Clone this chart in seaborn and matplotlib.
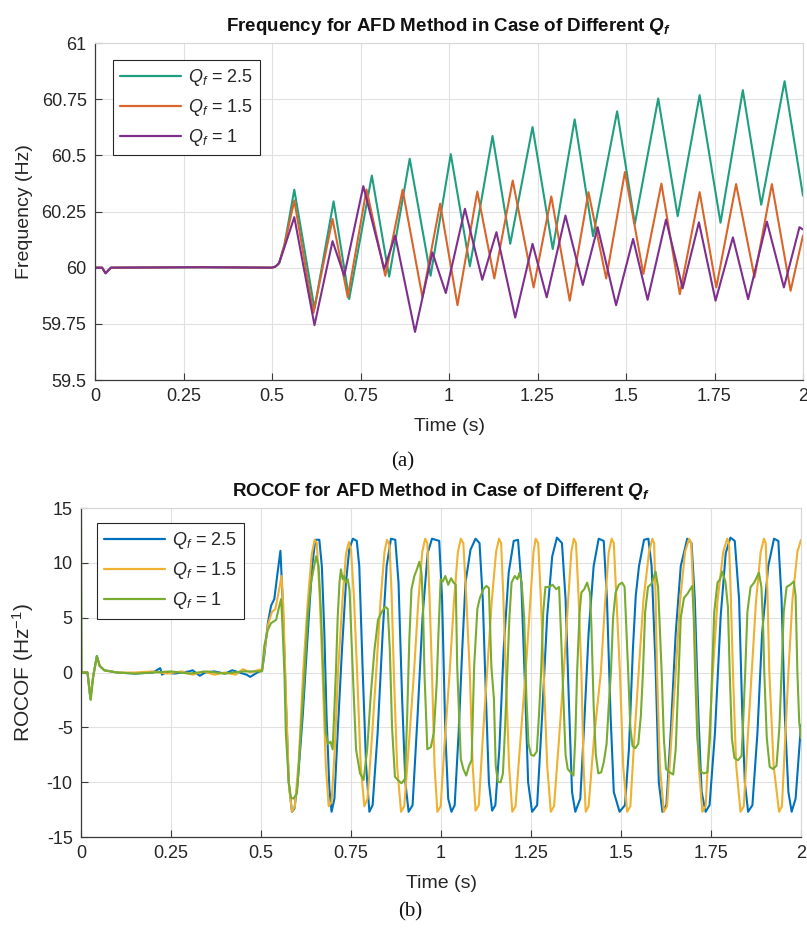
import matplotlib
matplotlib.use("Agg")
import matplotlib.pyplot as plt
from matplotlib.lines import Line2D
from matplotlib import font_manager
import seaborn as sns
import pandas as pd

# ---------------- data ----------------
series_freq = ["$Q_f$ = 2.5", "$Q_f$ = 1.5", "$Q_f$ = 1"]
colors_freq = ["#1f9e80", "#d9652a", "#7e2f8e"]
series_rocof = ["$Q_f$ = 2.5", "$Q_f$ = 1.5", "$Q_f$ = 1"]
colors_rocof = ["#0072bd", "#f0b030", "#77ac30"]

x_ticks = [0, 0.25, 0.5, 0.75, 1, 1.25, 1.5, 1.75, 2]
x_tick_labels = ["0", "0.25", "0.5", "0.75", "1", "1.25", "1.5", "1.75", "2"]
freq_ticks = [59.5, 59.75, 60, 60.25, 60.5, 60.75, 61]
freq_tick_labels = ["59.5", "59.75", "60", "60.25", "60.5", "60.75", "61"]
rocof_ticks = [-15, -10, -5, 0, 5, 10, 15]

# Frequency, Qf = 2.5 (time s, Hz)
freq_q25 = [(0, 60), (0.02, 60), (0.03, 59.975), (0.045, 60), (0.3, 60.002), (0.5, 60),
            (0.51, 60.005), (0.52, 60.02), (0.535, 60.1), (0.563, 60.347), (0.62, 59.818),
            (0.674, 60.295), (0.718, 59.86), (0.782, 60.41), (0.831, 59.96), (0.889, 60.485),
            (0.948, 59.964), (1.005, 60.505), (1.059, 60.006), (1.123, 60.586), (1.173, 60.106),
            (1.236, 60.626), (1.293, 60.083), (1.355, 60.66), (1.407, 60.14), (1.475, 60.696),
            (1.525, 60.195), (1.591, 60.753), (1.646, 60.229), (1.708, 60.768), (1.767, 60.2),
            (1.83, 60.79), (1.882, 60.28), (1.948, 60.83), (2.0, 60.32)]
# Frequency, Qf = 1.5
freq_q15 = [(0, 60), (0.02, 60), (0.03, 59.975), (0.045, 60), (0.3, 60.002), (0.5, 60),
            (0.51, 60.005), (0.52, 60.02), (0.535, 60.1), (0.563, 60.299), (0.617, 59.798),
            (0.671, 60.217), (0.714, 59.868), (0.767, 60.348), (0.82, 59.964), (0.869, 60.347),
            (0.925, 59.868), (0.975, 60.285), (1.024, 59.833), (1.08, 60.339), (1.128, 59.952),
            (1.18, 60.388), (1.239, 59.912), (1.289, 60.317), (1.341, 59.853), (1.394, 60.336),
            (1.444, 59.952), (1.497, 60.426), (1.549, 59.972), (1.6, 60.374), (1.652, 59.882),
            (1.708, 60.336), (1.755, 59.912), (1.811, 60.372), (1.863, 59.957), (1.912, 60.372),
            (1.965, 59.897), (2.0, 60.143)]
# Frequency, Qf = 1
freq_q1 = [(0, 60), (0.02, 60), (0.03, 59.975), (0.045, 60), (0.3, 60.002), (0.5, 60),
           (0.51, 60.005), (0.52, 60.02), (0.535, 60.09), (0.563, 60.225), (0.62, 59.744),
           (0.671, 60.118), (0.704, 59.964), (0.758, 60.363), (0.817, 59.994), (0.848, 60.143),
           (0.904, 59.714), (0.953, 60.068), (0.991, 59.887), (1.045, 60.262), (1.094, 59.946),
           (1.134, 60.158), (1.187, 59.778), (1.236, 60.106), (1.276, 59.868), (1.329, 60.232),
           (1.378, 59.923), (1.42, 60.18), (1.472, 59.833), (1.52, 60.128), (1.561, 59.857),
           (1.613, 60.214), (1.66, 59.908), (1.706, 60.202), (1.753, 59.853), (1.802, 60.135),
           (1.845, 59.86), (1.898, 60.205), (1.946, 59.912), (1.99, 60.18), (2.0, 60.17)]

# ROCOF, Qf = 2.5 (time s, Hz/s)
rocof_q25 = [(0, 0), (0.018, 0), (0.026, -2.4), (0.034, -0.3), (0.044, 1.5), (0.052, 0.6),
             (0.065, 0.2), (0.1, 0), (0.15, -0.1), (0.2, 0), (0.22, 0.4), (0.225, -0.2),
             (0.235, 0), (0.26, -0.1), (0.3, 0.1), (0.31, 0.2), (0.33, -0.3), (0.345, 0),
             (0.37, 0.1), (0.4, -0.1), (0.42, 0.2), (0.44, 0), (0.46, -0.2), (0.47, -0.4),
             (0.49, 0), (0.503, 0.2),
             (0.509, 1.5), (0.519, 4.5), (0.528, 6.1), (0.537, 6.7), (0.546, 9.1), (0.554, 11.1),
             (0.56, 6.7), (0.569, -2.4), (0.577, -10), (0.586, -12.7), (0.593, -12.4), (0.602, -10),
             (0.616, -3.9), (0.63, 3.6), (0.642, 9.7), (0.651, 12.1), (0.662, 12.1), (0.669, 9.7),
             (0.676, 3.6), (0.682, -3.9), (0.69, -10.6), (0.696, -12.7), (0.704, -11.5),
             (0.713, -5.5), (0.725, 2.1), (0.736, 8.2), (0.745, 11.2), (0.755, 12.2), (0.766, 12),
             (0.773, 9.7), (0.782, 0.6), (0.792, -8.5), (0.801, -12.7), (0.81, -12.1),
             (0.824, -5.5), (0.838, 3.6), (0.849, 9.7), (0.861, 12.2), (0.873, 12.1), (0.882, 8.2),
             (0.892, -2.4), (0.901, -10), (0.91, -12.7), (0.921, -12.1), (0.935, -3.9),
             (0.949, 5.2), (0.963, 10.9), (0.975, 12.2), (0.995, 12.0), (1.003, 6.7),
             (1.012, -5.5), (1.02, -11.5), (1.029, -12.7), (1.038, -12.1), (1.049, -5.5),
             (1.059, 2.1), (1.068, 8.2), (1.082, 11.2), (1.096, 12.2), (1.107, 11.8), (1.116, 6.7),
             (1.125, -2.4), (1.133, -10), (1.142, -12.6), (1.151, -12.1), (1.162, -7),
             (1.174, 2.1), (1.188, 9.1), (1.202, 12), (1.214, 12.1), (1.223, 8.2), (1.233, -0.9),
             (1.242, -10), (1.253, -12.7), (1.267, -12.1), (1.281, -3.9), (1.295, 5.2),
             (1.309, 10.6), (1.322, 12.3), (1.336, 11.8), (1.346, 6.7), (1.355, -2.4),
             (1.364, -10.9), (1.373, -12.7), (1.387, -11.5), (1.399, -3.9), (1.41, 3.6),
             (1.424, 9.7), (1.438, 12.2), (1.452, 12), (1.461, 6.7), (1.471, -3.9), (1.48, -10.9),
             (1.496, -12.7), (1.511, -12.1), (1.522, -7), (1.533, 2.1), (1.541, 7), (1.55, 9.7),
             (1.564, 12.1), (1.576, 12.2), (1.585, 9.7), (1.596, 0.6), (1.605, -10),
             (1.615, -12.7), (1.626, -12.1), (1.638, -5.5), (1.652, 3.6), (1.666, 9.7),
             (1.684, 12.2), (1.696, 11.8), (1.705, 6.7), (1.715, -3.9), (1.724, -10.9),
             (1.735, -12.7), (1.746, -12.1), (1.761, -5.5), (1.777, 5.2), (1.791, 10.9),
             (1.804, 12.3), (1.816, 12), (1.828, 6.7), (1.837, -3.9), (1.844, -10), (1.853, -12.7),
             (1.865, -12.1), (1.879, -5.5), (1.892, 3.6), (1.909, 9.7), (1.925, 12.2), (1.937, 12),
             (1.946, 6.7), (1.955, -3.9), (1.965, -10.9), (1.974, -12.7), (1.985, -11.5),
             (2.0, -4.8)]
# ROCOF, Qf = 1.5
rocof_q15 = [(0, 0), (0.018, 0), (0.026, -2.3), (0.034, -0.3), (0.044, 1.4), (0.052, 0.6),
             (0.065, 0.2), (0.1, 0), (0.15, 0), (0.2, 0.1), (0.24, -0.1), (0.28, 0.1),
             (0.31, -0.2), (0.34, 0.1), (0.37, -0.2), (0.4, 0), (0.43, -0.2), (0.45, 0.3),
             (0.47, 0), (0.49, 0.2), (0.503, 0.3),
             (0.509, 1.8), (0.519, 4.3), (0.53, 5.5), (0.54, 5.8), (0.55, 7.5), (0.557, 8.8),
             (0.562, 6), (0.57, -3), (0.578, -10.5), (0.586, -12.7), (0.594, -12.2), (0.605, -8),
             (0.617, 0), (0.63, 6.5), (0.641, 10.8), (0.649, 12.1), (0.655, 11.8), (0.663, 7),
             (0.671, 0), (0.68, -8.5), (0.688, -12.2), (0.696, -11.8), (0.705, -7), (0.714, 0),
             (0.726, 6.5), (0.736, 10.8), (0.744, 11.9), (0.75, 11.2), (0.758, 7), (0.767, 0),
             (0.777, -8.5), (0.787, -12.2), (0.796, -11.5), (0.808, -6), (0.82, 0), (0.832, 6.5),
             (0.843, 11), (0.85, 12.1), (0.857, 11.6), (0.863, 7), (0.869, 0), (0.878, -8.5),
             (0.889, -12.7), (0.898, -12.2), (0.912, -6), (0.925, 0), (0.937, 6.5), (0.948, 11),
             (0.956, 12.2), (0.962, 11.8), (0.968, 7), (0.975, 0), (0.982, -8.5), (0.99, -12.7),
             (0.999, -12.2), (1.011, -6), (1.024, 0), (1.036, 6.5), (1.047, 11), (1.055, 12.2),
             (1.062, 11.8), (1.07, 7), (1.08, 0), (1.088, -8.5), (1.096, -12.6), (1.105, -12.1),
             (1.116, -6), (1.128, 0), (1.141, 6.5), (1.153, 11), (1.161, 12.2), (1.167, 11.8),
             (1.173, 7), (1.18, 0), (1.189, -8.5), (1.198, -12.7), (1.207, -12.2), (1.221, -6),
             (1.235, 0), (1.248, 6.5), (1.257, 11), (1.263, 12.2), (1.27, 11.8), (1.277, 7),
             (1.285, 0), (1.295, -8.5), (1.305, -12.7), (1.314, -12.2), (1.328, -6), (1.341, 0),
             (1.353, 6.5), (1.362, 11), (1.369, 12.2), (1.375, 11.8), (1.382, 7), (1.39, 0),
             (1.396, -8.5), (1.402, -12.7), (1.41, -12.2), (1.425, -6), (1.444, 0), (1.456, 6.5),
             (1.466, 11), (1.474, 12.2), (1.48, 11.8), (1.487, 7), (1.497, 0), (1.506, -8.5),
             (1.517, -12.7), (1.526, -12.2), (1.537, -6), (1.549, 0), (1.562, 6.5), (1.578, 11),
             (1.587, 12.2), (1.592, 11.8), (1.596, 7), (1.6, 0), (1.608, -8.5), (1.619, -12.7),
             (1.628, -12.2), (1.64, -6), (1.652, 0), (1.664, 6.5), (1.678, 11), (1.689, 12.2),
             (1.695, 11.8), (1.701, 7), (1.708, 0), (1.716, -8.5), (1.726, -12.7), (1.735, -12.2),
             (1.745, -6), (1.755, 0), (1.768, 6.5), (1.784, 11), (1.795, 12.2), (1.8, 11.8),
             (1.805, 7), (1.811, 0), (1.82, -8.5), (1.832, -12.7), (1.841, -12.2), (1.852, -6),
             (1.863, 0), (1.875, 6.5), (1.888, 11), (1.897, 12.2), (1.902, 11.8), (1.907, 7),
             (1.912, 0), (1.924, -8.5), (1.939, -12.7), (1.947, -12.2), (1.956, -6), (1.965, 0),
             (1.976, 6.5), (1.99, 11), (2.0, 12.1)]
# ROCOF, Qf = 1
rocof_q1 = [(0, 15), (0.002, 0), (0.018, 0), (0.027, -2.5), (0.034, -0.4), (0.044, 1.5),
            (0.052, 0.6), (0.065, 0.2), (0.1, 0), (0.15, -0.1), (0.2, 0), (0.25, 0.1),
            (0.3, -0.1), (0.35, 0.1), (0.4, -0.1), (0.45, 0.1), (0.503, 0.1),
            (0.509, 2.4), (0.519, 3.9), (0.528, 4.5), (0.542, 4.8), (0.551, 6.1), (0.556, 6.7),
            (0.56, 4), (0.565, 0), (0.569, -5.5), (0.577, -10), (0.583, -11.4), (0.59, -11.5),
            (0.6, -11), (0.606, -7.9), (0.621, 0), (0.63, 5.2), (0.639, 8.2), (0.653, 10.6),
            (0.66, 9.7), (0.667, 5.2), (0.673, 0), (0.68, -5.5), (0.686, -6.5), (0.693, -6.3),
            (0.699, -7), (0.703, -4), (0.708, 0), (0.713, 5), (0.718, 8.2), (0.722, 9.4),
            (0.727, 8.5), (0.731, 8.8), (0.736, 8.2), (0.741, 8.5), (0.746, 7.5), (0.755, 0),
            (0.764, -7), (0.775, -9.2), (0.785, -9.8), (0.795, -7), (0.805, -2), (0.815, 2),
            (0.825, 4.8), (0.835, 5.5), (0.845, 6), (0.852, 5.8), (0.858, 2), (0.864, -5),
            (0.872, -9.5), (0.88, -9.8), (0.89, -10.1), (0.9, -9.7), (0.906, -4), (0.912, 3),
            (0.918, 7.6), (0.926, 8.8), (0.933, 9.4), (0.94, 10.1), (0.946, 9), (0.95, 6),
            (0.954, 0), (0.962, -7), (0.972, -6.8), (0.98, -5.5), (0.988, -1), (0.993, 3.6),
            (0.999, 8.5), (1.005, 8.3), (1.012, 8.8), (1.02, 8.0), (1.028, 8.6), (1.035, 8.2),
            (1.041, 8.0), (1.045, 0.5), (1.055, -7.9), (1.062, -8.8), (1.07, -9.4), (1.078, -8.5),
            (1.085, -8), (1.092, 0.5), (1.101, 5.8), (1.108, 6.8), (1.118, 7.6), (1.126, 7.9),
            (1.133, 7.7), (1.14, 0.5), (1.147, -2.4), (1.152, -8.5), (1.158, -10), (1.166, -10),
            (1.172, -9.2), (1.178, -5), (1.184, 0), (1.19, 5), (1.196, 8.2), (1.205, 8.8),
            (1.212, 8.5), (1.218, 9.1), (1.224, 8.2), (1.231, 5), (1.237, -2), (1.243, -6.5),
            (1.25, -7.5), (1.258, -7.6), (1.266, -7.2), (1.272, -4), (1.278, 0), (1.284, 5.5),
            (1.29, 7.8), (1.3, 7.8), (1.31, 8.0), (1.32, 7.6), (1.328, 7.8), (1.334, 3),
            (1.34, -2.4), (1.346, -7.5), (1.352, -8.8), (1.36, -9.1), (1.368, -9.4), (1.373, -6),
            (1.378, 0), (1.385, 5.5), (1.39, 7.3), (1.398, 7.6), (1.406, 8.2), (1.414, 7.2),
            (1.418, 4), (1.424, -3), (1.43, -7.5), (1.437, -9.2), (1.445, -9.1), (1.452, -8.2),
            (1.46, -6.5), (1.466, -3), (1.472, 0), (1.478, 5), (1.485, 7.3), (1.494, 8),
            (1.503, 8.2), (1.51, 7.8), (1.515, 4), (1.52, 0), (1.526, -5), (1.532, -6.7),
            (1.54, -6.9), (1.548, -6.5), (1.555, -4), (1.561, 0), (1.567, 5.5), (1.575, 7.8),
            (1.585, 8.1), (1.596, 9.2), (1.603, 7.8), (1.608, 4), (1.613, 0), (1.619, -6),
            (1.625, -8.8), (1.635, -9.1), (1.645, -9.3), (1.652, -7), (1.66, 0), (1.666, 5),
            (1.675, 6.8), (1.685, 7.2), (1.698, 7.9), (1.702, 5), (1.706, 0), (1.712, -6),
            (1.72, -9), (1.73, -9.2), (1.74, -9.1), (1.747, -6), (1.753, 0), (1.759, 5.5),
            (1.768, 8.2), (1.775, 8.5), (1.781, 9.2), (1.79, 8.3), (1.797, 6), (1.802, 0),
            (1.808, -6), (1.815, -7.8), (1.825, -8), (1.835, -7.6), (1.84, -4), (1.845, 0),
            (1.851, 5.5), (1.86, 7.8), (1.87, 8.2), (1.883, 9.1), (1.89, 7.8), (1.895, 4),
            (1.898, 0), (1.905, -6), (1.913, -8.6), (1.922, -8.8), (1.932, -8.5), (1.94, -5),
            (1.946, 0), (1.952, 5.5), (1.96, 7.8), (1.97, 8), (1.98, 8.3), (1.985, 7), (1.99, 0),
            (1.995, -4.5), (2.0, -6)]


def to_frame(series_names, tables):
    rows = []
    for name, tab in zip(series_names, tables):
        for i, (t, v) in enumerate(tab):
            rows.append({"series": name, "order": i, "t": t, "v": v})
    return pd.DataFrame(rows)


df_freq = to_frame(series_freq, [freq_q25, freq_q15, freq_q1])
df_rocof = to_frame(series_rocof, [rocof_q25, rocof_q15, rocof_q1])

# ---------------- style ----------------
sns.set_theme(style="white")
plt.rcParams["font.family"] = ["Liberation Sans", "DejaVu Sans"]
plt.rcParams["axes.unicode_minus"] = False
plt.rcParams["mathtext.fontset"] = "custom"
plt.rcParams["mathtext.rm"] = "Liberation Sans"
plt.rcParams["mathtext.it"] = "Liberation Sans:italic"
plt.rcParams["mathtext.bf"] = "Liberation Sans:bold"
plt.rcParams["mathtext.bfit"] = "Liberation Sans:bold:italic"

installed = {f.name for f in font_manager.fontManager.ttflist}
title_family = "Liberation Sans Narrow" if "Liberation Sans Narrow" in installed else "Liberation Sans"
title_size = 15.5 if title_family == "Liberation Sans Narrow" else 13.5

TEXT = "#262626"
GRID = "#e1e1e1"

fig = plt.figure(figsize=(8.07, 9.3), dpi=100)
ax1 = fig.add_axes([95 / 807, 1 - 380 / 930, 708 / 807, 337 / 930])
ax2 = fig.add_axes([81 / 807, 1 - 837 / 930, 720 / 807, 329 / 930])


def style_axes(ax):
    ax.grid(True, color=GRID, linewidth=0.8)
    ax.set_axisbelow(True)
    for side in ["left", "bottom"]:
        ax.spines[side].set_color("#3a3a3a")
        ax.spines[side].set_linewidth(0.9)
    for side in ["top", "right"]:
        ax.spines[side].set_color("#d6d6d6")
        ax.spines[side].set_linewidth(0.8)
    ax.tick_params(axis="both", direction="in", length=5, width=0.8, colors="#3a3a3a",
                   labelcolor=TEXT, labelsize=13, pad=6,
                   left=True, bottom=True, top=False, right=False)


def set_title(ax, text):
    if title_family == "Liberation Sans Narrow":
        plt.rcParams["mathtext.bfit"] = "Liberation Sans Narrow:bold:italic"
    ax.set_title(text, fontsize=title_size, fontweight="bold", color="#111111", pad=9,
                 family=[title_family, "Liberation Sans", "DejaVu Sans"])


# --- top: frequency ---
sns.lineplot(data=df_freq, x="t", y="v", hue="series", hue_order=series_freq,
             palette=dict(zip(series_freq, colors_freq)), sort=False, estimator=None,
             units="series", linewidth=1.5, legend=False, ax=ax1)
for ln in ax1.lines:
    ln.set_solid_joinstyle("round")
ax1.set_xlim(0, 2)
ax1.set_ylim(59.5, 61)
ax1.set_xticks(x_ticks)
ax1.set_xticklabels(x_tick_labels)
ax1.set_yticks(freq_ticks)
ax1.set_yticklabels(freq_tick_labels)
style_axes(ax1)
ax1.set_xlabel("Time (s)", fontsize=14, color=TEXT, labelpad=9)
ax1.set_ylabel("Frequency (Hz)", fontsize=14, color=TEXT, labelpad=6)
set_title(ax1, r"Frequency for AFD Method in Case of Different $\mathbfit{Q_f}$")
handles1 = [Line2D([0], [0], color=c, lw=1.6) for c in colors_freq]
leg1 = ax1.legend(handles1, series_freq, loc="upper left", bbox_to_anchor=(0.025, 0.95),
                  borderaxespad=0, fontsize=13, handlelength=3.4, handletextpad=0.35,
                  labelspacing=0.5, frameon=True, fancybox=False, framealpha=1,
                  edgecolor="#262626", borderpad=0.4)
leg1.get_frame().set_linewidth(0.8)
for txt in leg1.get_texts():
    txt.set_color(TEXT)

# --- bottom: ROCOF ---
sns.lineplot(data=df_rocof, x="t", y="v", hue="series", hue_order=series_rocof,
             palette=dict(zip(series_rocof, colors_rocof)), sort=False, estimator=None,
             units="series", linewidth=1.5, legend=False, ax=ax2)
for ln in ax2.lines:
    ln.set_solid_joinstyle("round")
ax2.set_xlim(0, 2)
ax2.set_ylim(-15, 15)
ax2.set_xticks(x_ticks)
ax2.set_xticklabels(x_tick_labels)
ax2.set_yticks(rocof_ticks)
style_axes(ax2)
ax2.set_xlabel("Time (s)", fontsize=14, color=TEXT, labelpad=9)
ax2.set_ylabel(r"ROCOF (Hz$^{\mathregular{-1}}$)", fontsize=15, color=TEXT, labelpad=8)
set_title(ax2, r"ROCOF for AFD Method in Case of Different $\mathbfit{Q_f}$")
handles2 = [Line2D([0], [0], color=c, lw=1.6) for c in colors_rocof]
leg2 = ax2.legend(handles2, series_rocof, loc="upper left", bbox_to_anchor=(0.022, 0.954),
                  borderaxespad=0, fontsize=13, handlelength=3.4, handletextpad=0.35,
                  labelspacing=0.5, frameon=True, fancybox=False, framealpha=1,
                  edgecolor="#262626", borderpad=0.4)
leg2.get_frame().set_linewidth(0.8)
for txt in leg2.get_texts():
    txt.set_color(TEXT)

# captions
fig.text(403 / 807, 1 - 462 / 930, "(a)", ha="center", va="center",
         family=["Liberation Serif", "DejaVu Serif"], fontsize=15, color="#111111")
fig.text(410 / 807, 1 - 912 / 930, "(b)", ha="center", va="center",
         family=["Liberation Serif", "DejaVu Serif"], fontsize=15, color="#111111")

fig.savefig("out.png", dpi=100)
